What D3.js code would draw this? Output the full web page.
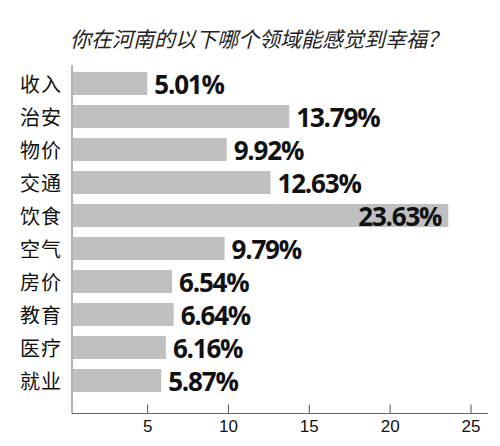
<!DOCTYPE html>
<html>
<head>
<meta charset="utf-8">
<script src="https://cdn.jsdelivr.net/npm/d3@7"></script>
<style>
  body { margin: 0; background: #fff; }
  svg { display: block; }
</style>
</head>
<body>
<div id="chart"></div>
<script>
// data
const title = "你在河南的以下哪个领域能感觉到幸福？";
const categories = ["收入", "治安", "物价", "交通", "饮食", "空气", "房价", "教育", "医疗", "就业"];
const values = [5.01, 13.79, 9.92, 12.63, 23.63, 9.79, 6.54, 6.64, 6.16, 5.87];
const tickValues = [5, 10, 15, 20, 25];

const width = 500, height = 446;
const axisX = 72, axisY = 413.5;

const svg = d3.select("#chart")
  .append("svg")
  .attr("width", width)
  .attr("height", height);

const x = d3.scaleLinear()
  .domain([0, 25])
  .range([66.3, 470.5]);

const y = d3.scaleBand()
  .domain(categories)
  .range([67, 397])
  .paddingInner(0.3)
  .paddingOuter(0.15);

const rows = categories.map((c, i) => ({ cat: c, val: values[i] }));
const maxVal = d3.max(values);

// title
svg.append("text")
  .attr("x", 259)
  .attr("y", 47)
  .attr("text-anchor", "middle")
  .attr("font-family", "'Noto Sans CJK SC', sans-serif")
  .attr("font-size", 21)
  .attr("font-style", "italic")
  .attr("fill", "#222")
  .text(title);

// bars
svg.append("g")
  .selectAll("rect")
  .data(rows)
  .enter()
  .append("rect")
  .attr("x", axisX + 1)
  .attr("y", d => y(d.cat))
  .attr("width", d => x(d.val) - axisX - 1)
  .attr("height", y.bandwidth())
  .attr("fill", "#c0c0c0");

// category labels
svg.append("g")
  .selectAll("text")
  .data(rows)
  .enter()
  .append("text")
  .attr("x", 62)
  .attr("y", d => y(d.cat) + y.bandwidth() / 2)
  .attr("dominant-baseline", "central")
  .attr("text-anchor", "end")
  .attr("font-family", "'Noto Sans CJK SC', sans-serif")
  .attr("font-size", 20)
  .attr("letter-spacing", 1)
  .attr("fill", "#111")
  .text(d => d.cat);

// value labels (biggest one sits inside its bar)
svg.append("g")
  .selectAll("text")
  .data(rows)
  .enter()
  .append("text")
  .attr("x", d => d.val === maxVal ? x(d.val) - 7 : x(d.val) + 7)
  .attr("y", d => y(d.cat) + y.bandwidth() / 2 + 10.5)
  .attr("text-anchor", d => d.val === maxVal ? "end" : "start")
  .attr("font-family", "'Open Sans', 'Liberation Sans', sans-serif")
  .attr("font-weight", "bold")
  .attr("font-size", 26)
  .attr("letter-spacing", -1.2)
  .attr("fill", "#111")
  .text(d => d.val.toFixed(2) + "%");

// x axis, ticks pointing up
const xAxis = d3.axisBottom(x)
  .tickValues(tickValues)
  .tickSizeInner(-9)
  .tickSizeOuter(0)
  .tickPadding(6);

const gx = svg.append("g")
  .attr("transform", `translate(0,${axisY})`)
  .call(xAxis);
gx.select(".domain").remove();
gx.selectAll(".tick line").attr("stroke", "#555");
gx.selectAll(".tick text")
  .attr("font-family", "'Liberation Sans Narrow', 'Liberation Sans', sans-serif")
  .attr("font-size", 17)
  .attr("fill", "#111");

// axis lines
svg.append("line")
  .attr("x1", axisX).attr("x2", 488)
  .attr("y1", axisY).attr("y2", axisY)
  .attr("stroke", "#666");
svg.append("line")
  .attr("x1", axisX).attr("x2", axisX)
  .attr("y1", 65).attr("y2", axisY)
  .attr("stroke", "#666");
</script>
</body>
</html>
